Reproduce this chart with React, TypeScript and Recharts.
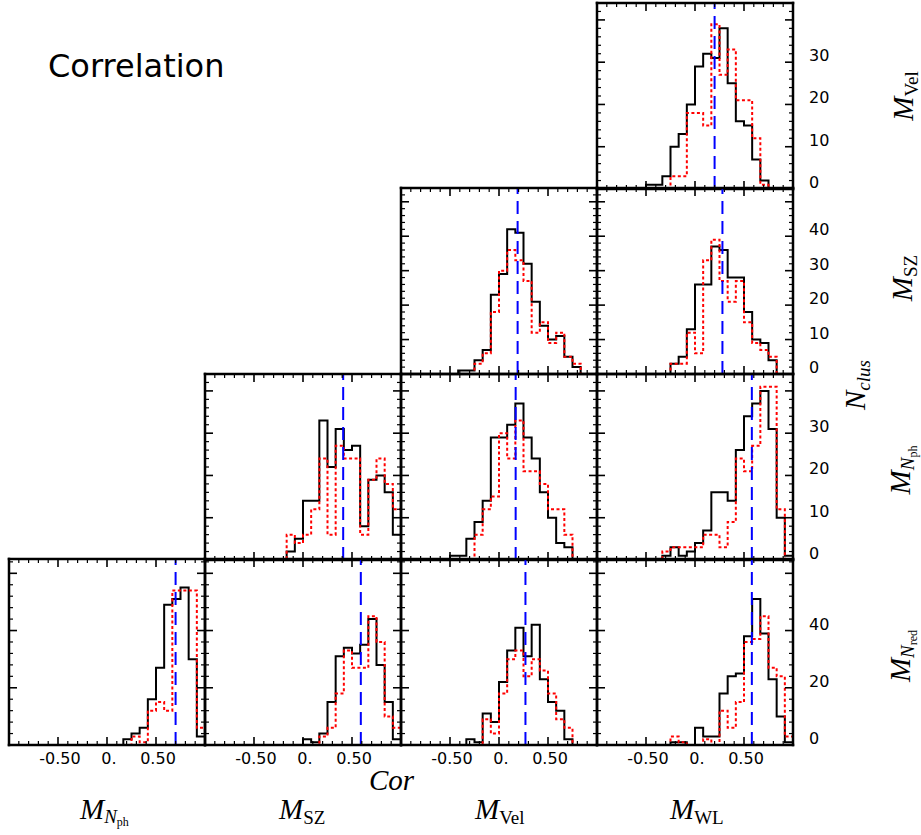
import React from "react";
import { ComposedChart, Line, XAxis, YAxis, ReferenceLine } from "recharts";

// histogram bins: 24 bins of width 1/12 over [-1, 1]
const binEdges = [
  -1, -0.9167, -0.8333, -0.75, -0.6667, -0.5833, -0.5, -0.4167, -0.3333, -0.25, -0.1667, -0.0833,
  0, 0.0833, 0.1667, 0.25, 0.3333, 0.4167, 0.5, 0.5833, 0.6667, 0.75, 0.8333, 0.9167, 1,
];

const xTicks = [-1, -0.9, -0.8, -0.7, -0.6, -0.5, -0.4, -0.3, -0.2, -0.1, 0, 0.1, 0.2, 0.3, 0.4, 0.5, 0.6, 0.7, 0.8, 0.9, 1];
const xMajorTicks = [-1, -0.5, 0, 0.5, 1];
const xLabelValues = [-0.5, 0, 0.5];
const xTickLabels = ["-0.50", "0.", "0.50"];

// per panel row: y range, tick steps, labelled ticks
const rowYMax = [44, 54, 44, 65];
const rowMajorStep = [10, 10, 10, 20];
const rowMinorStep = [2, 2, 2, 4];
const rowYLabels = [
  [0, 10, 20, 30],
  [0, 10, 20, 30, 40],
  [0, 10, 20, 30],
  [0, 20, 40],
];

// counts per bin (solid black / dotted red) and the dashed blue marker
const velWL_black = [0, 0, 0, 0, 0, 0, 1, 1, 3, 10, 13, 20, 29, 32, 31, 38, 25, 16, 15, 7, 2, 0, 0, 0];
const velWL_red = [0, 0, 0, 0, 0, 0, 0, 0, 0, 3, 3, 18, 18, 15, 39, 27, 33, 21, 21, 12, 1, 0, 0, 0];
const velWL_mark = 0.2;

const szVel_black = [0, 0, 0, 0, 0, 0, 0, 1, 1, 4, 7, 23, 29, 42, 41, 32, 21, 14, 10, 11, 5, 2, 0, 0];
const szVel_red = [0, 0, 0, 0, 0, 0, 0, 0, 0, 3, 6, 18, 30, 36, 33, 27, 12, 15, 9, 12, 5, 3, 0, 0];
const szVel_mark = 0.19;

const szWL_black = [0, 0, 0, 0, 0, 0, 0, 0, 0, 3, 5, 13, 26, 26, 37, 36, 28, 28, 18, 10, 9, 4, 0, 0];
const szWL_red = [0, 0, 0, 0, 0, 0, 0, 0, 0, 3, 3, 12, 6, 33, 39, 27, 21, 27, 15, 9, 7, 5, 0, 0];
const szWL_mark = 0.28;

const nphSZ_black = [0, 0, 0, 0, 0, 0, 0, 0, 0, 0, 2, 5, 14, 14, 33, 22, 31, 26, 27, 8, 19, 20, 16, 6];
const nphSZ_red = [0, 0, 0, 0, 0, 0, 0, 0, 0, 0, 6, 4, 6, 12, 24, 6, 27, 24, 24, 6, 19, 24, 18, 12];
const nphSZ_mark = 0.41;

const nphVel_black = [0, 0, 0, 0, 0, 0, 1, 1, 5, 9, 14, 29, 29, 32, 37, 29, 24, 16, 10, 4, 3, 0, 0, 0];
const nphVel_red = [0, 0, 0, 0, 0, 0, 0, 0, 0, 6, 12, 15, 30, 24, 33, 21, 21, 18, 12, 12, 6, 0, 0, 0];
const nphVel_mark = 0.17;

const nphWL_black = [0, 0, 0, 0, 0, 0, 0, 0, 1, 3, 1, 2, 4, 7, 16, 16, 14, 26, 34, 37, 40, 31, 10, 1];
const nphWL_red = [0, 0, 0, 0, 0, 0, 0, 0, 2, 3, 3, 3, 3, 6, 6, 3, 9, 24, 21, 27, 41, 41, 12, 0];
const nphWL_mark = 0.58;

const nredNph_black = [0, 0, 0, 0, 0, 0, 0, 0, 0, 0, 0, 0, 0, 0, 2, 4, 6, 16, 27, 49, 51, 55, 30, 3];
const nredNph_red = [0, 0, 0, 0, 0, 0, 0, 0, 0, 0, 0, 0, 0, 0, 0, 3, 1, 12, 15, 12, 54, 54, 54, 6];
const nredNph_mark = 0.7;

const nredSZ_black = [0, 0, 0, 0, 0, 0, 0, 0, 0, 0, 0, 0, 2, 1, 4, 15, 31, 34, 32, 35, 44, 28, 15, 2];
const nredSZ_red = [0, 0, 0, 0, 0, 0, 0, 0, 0, 0, 0, 0, 0, 0, 3, 6, 18, 33, 27, 27, 45, 36, 10, 6];
const nredSZ_mark = 0.59;

const nredVel_black = [0, 0, 0, 0, 0, 0, 0, 0, 2, 1, 11, 8, 22, 33, 41, 31, 42, 23, 15, 12, 2, 0, 0, 0];
const nredVel_red = [0, 0, 0, 0, 0, 0, 0, 0, 0, 0, 9, 4, 18, 30, 33, 24, 30, 26, 18, 9, 6, 0, 0, 0];
const nredVel_mark = 0.27;

const nredWL_black = [0, 0, 0, 0, 0, 0, 0, 0, 0, 1, 1, 0, 6, 3, 3, 18, 24, 25, 38, 51, 39, 23, 10, 1];
const nredWL_red = [0, 0, 0, 0, 0, 0, 0, 0, 0, 3, 1, 0, 0, 2, 0, 12, 6, 15, 36, 37, 45, 27, 24, 3];
const nredWL_mark = 0.58;

const panels = [
  { row: 0, col: 3, black: velWL_black, red: velWL_red, mark: velWL_mark },
  { row: 1, col: 2, black: szVel_black, red: szVel_red, mark: szVel_mark },
  { row: 1, col: 3, black: szWL_black, red: szWL_red, mark: szWL_mark },
  { row: 2, col: 1, black: nphSZ_black, red: nphSZ_red, mark: nphSZ_mark },
  { row: 2, col: 2, black: nphVel_black, red: nphVel_red, mark: nphVel_mark },
  { row: 2, col: 3, black: nphWL_black, red: nphWL_red, mark: nphWL_mark },
  { row: 3, col: 0, black: nredNph_black, red: nredNph_red, mark: nredNph_mark },
  { row: 3, col: 1, black: nredSZ_black, red: nredSZ_red, mark: nredSZ_mark },
  { row: 3, col: 2, black: nredVel_black, red: nredVel_red, mark: nredVel_mark },
  { row: 3, col: 3, black: nredWL_black, red: nredWL_red, mark: nredWL_mark },
];

const PW = 196;
const PH = 186;
const colLeft = [9, 205, 401, 597];
const rowTop = [3, 188, 374, 559];
const PAD = 4;
const frame = { stroke: "#000", strokeWidth: 2.5, strokeLinecap: "square" };
const tickFont = "'DejaVu Sans', sans-serif";
const mathFont = "'Liberation Serif', 'DejaVu Serif', serif";

const near = (a: number, b: number) => Math.abs(a - b) < 1e-6;

function yTicksFor(row: number) {
  const out: number[] = [];
  for (let v = 0; v <= rowYMax[row]; v += rowMinorStep[row]) out.push(v);
  return out;
}

function stepRows(black: number[], red: number[]) {
  const rows = [{ x: binEdges[0], black: 0, red: 0 }];
  for (let i = 0; i < black.length; i++) rows.push({ x: binEdges[i], black: black[i], red: red[i] });
  const last = black.length - 1;
  rows.push({ x: binEdges[last + 1], black: black[last], red: red[last] });
  rows.push({ x: binEdges[last + 1], black: 0, red: 0 });
  return rows;
}

function XTick(props: any) {
  const { x, y, payload, side, showLabel } = props;
  const v = payload.value;
  const major = xMajorTicks.some((m) => near(m, v));
  const len = major ? 8 : 4;
  const li = xLabelValues.findIndex((m) => near(m, v));
  const dir = side === "bottom" ? -1 : 1;
  return (
    <g>
      <line x1={x} x2={x} y1={y} y2={y + dir * len} stroke="#000" strokeWidth={major ? 1.6 : 1.2} />
      {showLabel && li >= 0 && (
        <text x={x + 2} y={y + 19} textAnchor="middle" fontFamily={tickFont} fontSize={16} fill="#000">
          {xTickLabels[li]}
        </text>
      )}
    </g>
  );
}

function YTick(props: any) {
  const { x, y, payload, side, showLabel, row } = props;
  const v = payload.value;
  const major = v % rowMajorStep[row] === 0;
  const len = major ? 8 : 4;
  const dir = side === "left" ? 1 : -1;
  const labelled = rowYLabels[row].includes(v);
  return (
    <g>
      <line x1={x} x2={x + dir * len} y1={y} y2={y} stroke="#000" strokeWidth={major ? 1.6 : 1.2} />
      {showLabel && labelled && (
        <text x={x + 16} y={y - 1} textAnchor="start" fontFamily={tickFont} fontSize={16} fill="#000">
          {v}
        </text>
      )}
    </g>
  );
}

function Panel({ row, col, black, red, mark }: any) {
  const showY = col === 3;
  const showX = row === 3;
  const rightW = showY ? 50 : 1;
  const bottomH = showX ? 30 : 1;
  const data = stepRows(black, red);
  const yTicks = yTicksFor(row);
  const m = PAD - 1;
  return (
    <div style={{ position: "absolute", left: colLeft[col] - PAD, top: rowTop[row] - PAD }}>
      <ComposedChart
        width={PW + 2 * m + 1 + rightW}
        height={PH + 2 * m + 1 + bottomH}
        data={data}
        margin={{ top: m, right: m, bottom: m, left: m }}
      >
        <XAxis
          xAxisId="b"
          dataKey="x"
          type="number"
          domain={[-1, 1]}
          ticks={xTicks}
          interval={0}
          orientation="bottom"
          height={bottomH}
          tickSize={0}
          tickMargin={0}
          tickLine={false}
          axisLine={frame}
          allowDataOverflow
          tick={(p: any) => <XTick {...p} side="bottom" showLabel={showX} />}
        />
        <XAxis
          xAxisId="t"
          dataKey="x"
          type="number"
          domain={[-1, 1]}
          ticks={xTicks}
          interval={0}
          orientation="top"
          height={1}
          tickSize={0}
          tickMargin={0}
          tickLine={false}
          axisLine={frame}
          allowDataOverflow
          tick={(p: any) => <XTick {...p} side="top" showLabel={false} />}
        />
        <YAxis
          yAxisId="l"
          type="number"
          domain={[0, rowYMax[row]]}
          ticks={yTicks}
          interval={0}
          orientation="left"
          width={1}
          tickSize={0}
          tickMargin={0}
          tickLine={false}
          axisLine={frame}
          allowDataOverflow
          tick={(p: any) => <YTick {...p} side="left" row={row} showLabel={false} />}
        />
        <YAxis
          yAxisId="r"
          type="number"
          domain={[0, rowYMax[row]]}
          ticks={yTicks}
          interval={0}
          orientation="right"
          width={rightW}
          tickSize={0}
          tickMargin={0}
          tickLine={false}
          axisLine={frame}
          allowDataOverflow
          tick={(p: any) => <YTick {...p} side="right" row={row} showLabel={showY} />}
        />
        <Line
          xAxisId="b"
          yAxisId="r"
          dataKey="black"
          type="stepAfter"
          stroke="#000"
          strokeWidth={2}
          dot={false}
          isAnimationActive={false}
        />
        <Line
          xAxisId="b"
          yAxisId="r"
          dataKey="red"
          type="stepAfter"
          stroke="#ff0000"
          strokeWidth={2}
          strokeDasharray="3 2.5"
          dot={false}
          isAnimationActive={false}
        />
        <ReferenceLine xAxisId="b" yAxisId="r" x={mark} stroke="#0000ff" strokeWidth={2} strokeDasharray="13 7" />
      </ComposedChart>
    </div>
  );
}

// M with a roman subscript, or M_{N_sub}
function MathLabel({ x, y, sub, nested, rotate }: any) {
  const transform = rotate ? `rotate(-90, ${x}, ${y})` : undefined;
  return (
    <text x={x} y={y} transform={transform} textAnchor={rotate ? "middle" : "start"} fontFamily={mathFont} fill="#000">
      <tspan fontStyle="italic" fontSize={29}>M</tspan>
      {nested ? (
        <>
          <tspan fontStyle="italic" fontSize={19} dy={4}>N</tspan>
          <tspan fontSize={12} dy={3}>{sub}</tspan>
        </>
      ) : (
        <tspan fontSize={19} dy={5}>{sub}</tspan>
      )}
    </text>
  );
}

export default function App() {
  return (
    <div style={{ position: "absolute", left: 0, top: 0, width: 921, height: 835, background: "#fff", overflow: "hidden" }}>
      {panels.map((p) => (
        <Panel key={`${p.row}-${p.col}`} {...p} />
      ))}
      <svg width={921} height={835} style={{ position: "absolute", left: 0, top: 0, pointerEvents: "none" }}>
        <text x={48} y={77} fontFamily={tickFont} fontSize={32} fill="#000">
          Correlation
        </text>
        <MathLabel x={913} y={96} sub="Vel" rotate />
        <MathLabel x={912} y={278} sub="SZ" rotate />
        <MathLabel x={910} y={470} sub="ph" nested rotate />
        <MathLabel x={910} y={656} sub="red" nested rotate />
        <text x={865} y={385} transform="rotate(-90, 865, 385)" textAnchor="middle" fontFamily={mathFont} fill="#000">
          <tspan fontStyle="italic" fontSize={29}>N</tspan>
          <tspan fontStyle="italic" fontSize={19} dy={5}>clus</tspan>
        </text>
        <text x={369} y={790} fontFamily={mathFont} fontStyle="italic" fontSize={29} fill="#000">
          Cor
        </text>
        <MathLabel x={80} y={819} sub="ph" nested />
        <MathLabel x={279} y={819} sub="SZ" />
        <MathLabel x={475} y={819} sub="Vel" />
        <MathLabel x={670} y={819} sub="WL" />
      </svg>
    </div>
  );
}
